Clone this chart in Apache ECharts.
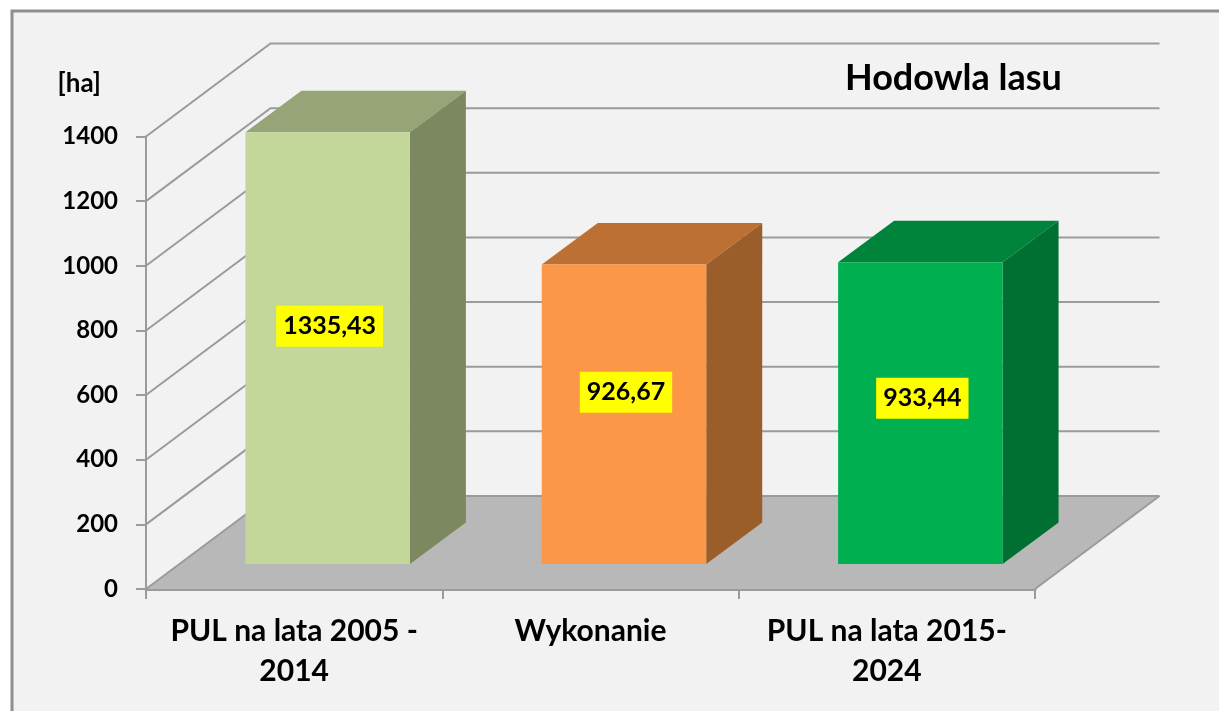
<!DOCTYPE html>
<html><head><meta charset="utf-8">
<style>html,body{margin:0;padding:0;background:#fff;overflow:hidden}#c{width:1219px;height:711px}</style>
<script src="https://cdn.jsdelivr.net/npm/echarts@6/dist/echarts.min.js"></script>
</head><body><div id="c"></div>
<script>
const categories = ['PUL na lata 2005 -\n2014', 'Wykonanie', 'PUL na lata 2015-\n2024'];
const values = [1335.43, 926.67, 933.44];
const valueLabels = ['1335,43', '926,67', '933,44'];
const yTicks = [0, 200, 400, 600, 800, 1000, 1200, 1400];
const chartTitle = 'Hodowla lasu';
const unitLabel = '[ha]';
const faceColors = ['#c4d79b', '#fb9746', '#00b050'];
const topColors = ['#97a477', '#bd7034', '#00843c'];
const sideColors = ['#7c8860', '#9b5e2b', '#007032'];

const FONT = 'Lato, Carlito, "Open Sans", sans-serif';
const WALL = [124.5, -93];      // perspective offset of back wall
const INSET = [33.5, -25];      // bar front face from chart front edge
const DEPTH = [56, -41.5];      // bar depth
const BAR_RATIO = 0.555;
const LABEL_LIFT = [22, 22, 15];
const GRID_COLOR = '#9b9b9b';

function shift(p, o) { return [p[0] + o[0], p[1] + o[1]]; }

function renderWalls(params, api) {
  const cs = params.coordSys;
  const y = api.coord([0, api.value(0)])[1];
  const a = [cs.x, y], b = shift(a, WALL), c = [cs.x + cs.width + WALL[0], b[1]];
  const children = [];
  if (api.value(0) === 0) {
    const d = [cs.x + cs.width, y];
    children.push({ type: 'polygon', shape: { points: [a, b, c, d] }, style: { fill: '#b8b8b8', stroke: null } });
    children.push({ type: 'polyline', shape: { points: [c, d] }, style: { fill: null, stroke: GRID_COLOR, lineWidth: 2 } });
  }
  children.push({ type: 'polyline', shape: { points: [a, b, c] }, style: { fill: null, stroke: GRID_COLOR, lineWidth: 2 } });
  return { type: 'group', children };
}

function renderBar(params, api) {
  const i = api.value(0), v = api.value(1);
  const band = api.size([1, 0])[0], w = band * BAR_RATIO;
  const base = api.coord([i, 0]), top = api.coord([i, v]);
  const x0 = base[0] - w / 2 + INSET[0], x1 = x0 + w;
  const y0 = base[1] + INSET[1], y1 = top[1] + INSET[1];
  const tl = [x0, y1], tr = [x1, y1], br = [x1, y0], bl = [x0, y0];
  return { type: 'group', children: [
    { type: 'polygon', shape: { points: [tl, shift(tl, DEPTH), shift(tr, DEPTH), tr] }, style: { fill: topColors[i] } },
    { type: 'polygon', shape: { points: [tr, shift(tr, DEPTH), shift(br, DEPTH), br] }, style: { fill: sideColors[i] } },
    { type: 'polygon', shape: { points: [tl, tr, br, bl] }, style: { fill: faceColors[i] } },
    { type: 'text', style: {
        text: valueLabels[i], x: (x0 + x1) / 2 + 2, y: (y0 + y1) / 2 - LABEL_LIFT[i],
        align: 'center', verticalAlign: 'middle', fill: '#000',
        font: 'bold 25px ' + FONT, backgroundColor: '#ffff00', padding: [9, 7, 7, 7]
    } }
  ] };
}

const chart = echarts.init(document.getElementById('c'), null, { renderer: 'canvas' });
chart.setOption({
  animation: false,
  backgroundColor: '#ffffff',
  title: { text: chartTitle, left: 840, top: 55, textStyle: { fontFamily: FONT, fontWeight: 'bold', fontSize: 36, color: '#000' } },
  graphic: [{ type: 'rect', z: -10, silent: true, shape: { x: 12, y: 11, width: 1400, height: 900 },
    style: { fill: '#f2f2f2', stroke: '#8f8f8f', lineWidth: 3 } }],
  grid: { left: 146, right: 184, top: 136.5, bottom: 122 },
  xAxis: { type: 'category', data: categories, boundaryGap: true,
    axisLine: { lineStyle: { color: GRID_COLOR, width: 3 } },
    axisTick: { show: true, length: 10, lineStyle: { color: GRID_COLOR, width: 2 } },
    axisLabel: { interval: 0, margin: 22, color: '#000', fontFamily: FONT, fontWeight: 'bold', fontSize: 30, lineHeight: 40 } },
  yAxis: { type: 'value', min: 0, max: 1400, interval: 200, name: unitLabel,
    nameLocation: 'end', nameGap: 40,
    nameTextStyle: { align: 'right', padding: [0, 45, 0, 0], color: '#000', fontFamily: FONT, fontWeight: 'bold', fontSize: 26 },
    splitLine: { show: false },
    axisLine: { show: true, lineStyle: { color: GRID_COLOR, width: 2 } },
    axisTick: { show: true, length: 10, lineStyle: { color: GRID_COLOR, width: 2 } },
    axisLabel: { margin: 28, padding: [6, 0, 0, 0], color: '#000', fontFamily: FONT, fontWeight: 'bold', fontSize: 24,
      customValues: yTicks, formatter: v => String(v) } },
  series: [
    { type: 'custom', coordinateSystem: 'cartesian2d', silent: true, z: 1, clip: false,
      encode: { y: 0 }, data: yTicks.map(v => [v]), renderItem: renderWalls },
    { type: 'custom', coordinateSystem: 'cartesian2d', silent: true, z: 3, clip: false,
      encode: { x: 0, y: 1 }, data: values.map((v, i) => [i, v]), renderItem: renderBar }
  ]
});
</script></body></html>
